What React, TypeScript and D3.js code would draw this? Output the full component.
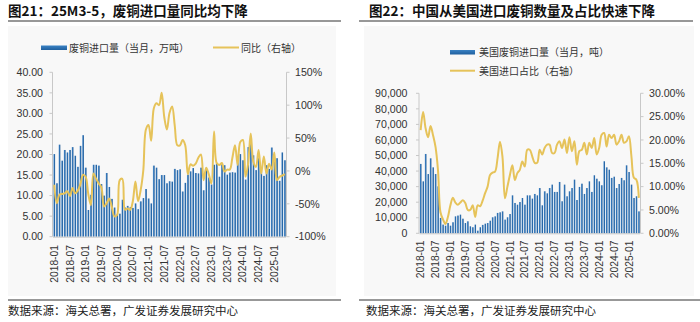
import React from "react";
import * as d3 from "d3";

// ---------- categories ----------
const months: string[] = [];
for (let y = 2018; y <= 2025; y++) {
  for (let m = 1; m <= 12; m++) {
    if (y === 2025 && m > 5) break;
    months.push(`${y}-${String(m).padStart(2, "0")}`);
  }
}
const tickMonths = months.filter((m) => m.endsWith("-01") || m.endsWith("-07"));

// ---------- Fig 21: scrap copper imports (万吨) and YoY (%) ----------
const scrapImport = [
  20.1, 13.0, 22.4, 18.5, 21.1, 20.5, 21.1, 21.8, 19.7, 17.0, 22.1, 24.7,
  16.8, 6.5, 10.2, 17.5, 17.5, 17.3, 12.8, 10.0, 15.5, 12.1, 9.2, 7.1,
  5.4, 5.6, 9.0, 7.1, 7.5, 7.2, 7.0, 8.1, 6.7, 8.6, 9.4, 11.6,
  9.3, 8.1, 17.3, 16.8, 14.0, 15.0, 15.0, 13.0, 13.5, 13.4, 16.5, 16.2,
  16.4, 11.0, 13.1, 15.1, 15.9, 16.7, 15.5, 15.4, 16.8, 11.3, 16.2, 14.4,
  12.7, 17.5, 17.8, 14.6, 17.6, 17.4, 15.1, 15.6, 15.7, 15.6, 18.1, 20.1,
  18.6, 13.9, 21.8, 22.5, 19.8, 16.2, 19.1, 15.9, 14.8, 17.4, 16.5, 21.7,
  19.1, 19.1, 13.6, 20.5, 18.6,
];
const scrapYoY = [
  -21, -49, -36, -35, -34, -31, -38, -26, -34, -30, -20, -6,
  -9, -35, -52, -4, -12, -19, -25, -54, -49, -42, -55, -69,
  -67, -14, -12, -59, -57, -59, -46, -16, -46, -29, 1, 63,
  70, 46, 95, 103, 100, 119, 82, 63, 88, 98, 69, 39,
  39, 47, 39, -5, 10, 8, 11, 20, 25, -14, 5, -5,
  -19, 60, 12, 9, 12, -1, 2, 2, 20, 39, 9, 44,
  47, -9, 11, 57, 14, 6, 32, -4, 22, -4, 11, 2,
  28, -14, -9, -7, -5,
];

// ---------- Fig 22: imports from US (吨) and share (%) ----------
const usImport = [
  44600, 33400, 51000, 38100, 48200, 42400, 38100, 30200, 9900, 5600, 4900, 6600,
  4900, 7100, 10900, 11400, 12000, 9400, 6600, 7700, 4500, 3900, 5600, 1700,
  3900, 5400, 6200, 6600, 8100, 10300, 10900, 13100, 13500, 14100, 8800, 10300,
  12400, 24400, 19500, 18400, 20100, 22700, 18400, 24400, 24400, 22300, 25300, 24400,
  29100, 18000, 27000, 25700, 29100, 31300, 26600, 26600, 33000, 20600, 31300, 23800,
  27000, 29100, 34500, 21400, 29800, 31900, 25300, 29100, 33400, 26600, 37300, 35100,
  33400, 30900, 46300, 42400, 40900, 35600, 36400, 29100, 31700, 35600, 34100, 43700,
  39400, 31300, 22700, 23800, 14100,
];
const usShare = [
  22.1, 26.0, 22.5, 20.6, 23.0, 21.0, 18.5, 13.5, 4.5, 3.0, 2.0, 3.5,
  6.0, 7.6, 6.6, 6.1, 6.6, 7.1, 6.5, 5.0, 5.0, 6.0, 3.5, 6.0,
  5.8, 7.0, 8.6, 10.0, 12.5, 13.0, 13.2, 16.0, 19.6, 16.4, 7.5, 10.0,
  12.5, 14.6, 11.4, 12.9, 13.6, 15.4, 14.3, 17.9, 17.9, 16.5, 15.1, 15.1,
  17.9, 16.9, 18.3, 19.0, 19.0, 17.2, 17.2, 19.0, 19.7, 18.3, 20.1, 17.2,
  20.6, 17.6, 19.7, 14.7, 17.6, 17.9, 19.4, 16.9, 19.4, 18.3, 20.4, 16.9,
  18.3, 21.1, 21.5, 18.6, 21.1, 20.4, 21.1, 19.0, 19.7, 21.1, 19.4, 19.7,
  20.8, 16.5, 11.9, 11.5, 7.6,
];

// ---------- tick values ----------
const scrapTicks = [0, 5, 10, 15, 20, 25, 30, 35, 40];
const yoyTicks = [-100, -50, 0, 50, 100, 150];
const usTicks = [0, 10000, 20000, 30000, 40000, 50000, 60000, 70000, 80000, 90000];
const shareTicks = [0, 5, 10, 15, 20, 25, 30];

const GOLD = "#e6c35a";
const AXIS = "#c8c8c8";
const TXT = "#333333";
const LATIN = "'Liberation Sans', Arial, sans-serif";
const CJK = "'Noto Sans CJK SC', 'Noto Sans', sans-serif";

type ChartProps = {
  id: string;
  x0: number;
  x1: number;
  yTop: number;
  yBot: number;
  bars: number[];
  line: number[];
  leftDomain: [number, number];
  rightDomain: [number, number];
  leftTicks: number[];
  rightTicks: number[];
  fmtLeft: (v: number) => string;
  fmtRight: (v: number) => string;
  leftLabelX: number;
  rightLabelX: number;
  xLabelY: number;
};

function ComboChart(p: ChartProps) {
  const x = d3.scaleBand<string>().domain(months).range([p.x0, p.x1]).paddingInner(0.32).paddingOuter(0.12);
  const yL = d3.scaleLinear().domain(p.leftDomain).range([p.yBot, p.yTop]);
  const yR = d3.scaleLinear().domain(p.rightDomain).range([p.yBot, p.yTop]);
  const cx = (m: string) => (x(m) as number) + x.bandwidth() / 2;
  const lineGen = d3
    .line<number>()
    .x((_, i) => cx(months[i]))
    .y((d) => yR(d))
    .curve(d3.curveCatmullRom.alpha(0.5));
  return (
    <g>
      {p.bars.map((v, i) => (
        <rect
          key={i}
          x={x(months[i])}
          y={yL(v)}
          width={x.bandwidth()}
          height={yL(0) - yL(v)}
          fill={`url(#barGrad)`}
        />
      ))}
      <line x1={p.x0} x2={p.x1} y1={p.yBot + 0.5} y2={p.yBot + 0.5} stroke={AXIS} strokeWidth={1} />
      <line x1={p.x0 - 0.5} x2={p.x0 - 0.5} y1={p.yTop} y2={p.yBot} stroke={AXIS} strokeWidth={1} />
      {p.leftTicks.map((t) => (
        <g key={t}>
          <line x1={p.x0 - 3.5} x2={p.x0 - 0.5} y1={yL(t)} y2={yL(t)} stroke={AXIS} />
          <text x={p.leftLabelX} y={yL(t)} dy="0.35em" textAnchor="end" fontFamily={LATIN} fontSize={10.6} fill={TXT}>
            {p.fmtLeft(t)}
          </text>
        </g>
      ))}
      <line x1={p.x1 + 0.5} x2={p.x1 + 0.5} y1={p.yTop} y2={p.yBot} stroke={AXIS} strokeWidth={1} />
      {p.rightTicks.map((t) => (
        <g key={t}>
          <line x1={p.x1 + 0.5} x2={p.x1 + 3.5} y1={yR(t)} y2={yR(t)} stroke={AXIS} />
          <text x={p.rightLabelX} y={yR(t)} dy="0.35em" textAnchor="start" fontFamily={LATIN} fontSize={10.6} fill={TXT}>
            {p.fmtRight(t)}
          </text>
        </g>
      ))}
      {tickMonths.map((m) => (
        <text
          key={m}
          transform={`translate(${cx(m)},${p.xLabelY}) rotate(-90)`}
          dy="0.35em"
          textAnchor="end"
          fontFamily={LATIN}
          fontSize={10.3}
          fill={TXT}
        >
          {m}
        </text>
      ))}
      <path d={lineGen(p.line) || ""} fill="none" stroke={GOLD} strokeWidth={2} strokeLinejoin="round" />
    </g>
  );
}

export default function App() {
  return (
    <svg width={700} height={322} style={{ position: "absolute", left: 0, top: 0, background: "#fff" }}>
      <defs>
        <linearGradient id="barGrad" x1="0" x2="1" y1="0" y2="0">
          <stop offset="0" stopColor="#8fb8e0" />
          <stop offset="0.4" stopColor="#3478bb" />
          <stop offset="1" stopColor="#1b5591" />
        </linearGradient>
        <linearGradient id="legGrad" x1="0" x2="0" y1="0" y2="1">
          <stop offset="0" stopColor="#3a82c4" />
          <stop offset="1" stopColor="#1f5f9e" />
        </linearGradient>
      </defs>

      <rect x={8} y={26} width={328} height={270} fill="#f8f8f8" />
      <rect x={364} y={26} width={330} height={270} fill="#f8f8f8" />

      <text x={8} y={15.5} fontFamily={CJK} fontWeight={700} fontSize={13.5} fill="#111">
        图21：25M3-5，废铜进口量同比均下降
      </text>
      <line x1={8} x2={341} y1={21} y2={21} stroke="#333" strokeWidth={1.2} />
      <text x={369} y={15.5} fontFamily={CJK} fontWeight={700} fontSize={13.5} fill="#111">
        图22：中国从美国进口废铜数量及占比快速下降
      </text>
      <line x1={359} x2={693} y1={21} y2={21} stroke="#333" strokeWidth={1.2} />

      <rect x={41} y={45.5} width={26} height={4.5} fill="url(#legGrad)" />
      <text x={69} y={48} dy="0.35em" fontFamily={CJK} fontSize={10} fill={TXT}>
        废铜进口量（当月，万吨）
      </text>
      <line x1={213} x2={239} y1={47.5} y2={47.5} stroke={GOLD} strokeWidth={2} />
      <text x={241} y={48} dy="0.35em" fontFamily={CJK} fontSize={10} fill={TXT}>
        同比（右轴）
      </text>

      <rect x={450} y={50} width={25} height={4.5} fill="url(#legGrad)" />
      <text x={479} y={52.5} dy="0.35em" fontFamily={CJK} fontSize={10} fill={TXT}>
        美国废铜进口量（当月，吨）
      </text>
      <line x1={450} x2={475} y1={70.7} y2={70.7} stroke={GOLD} strokeWidth={2} />
      <text x={479} y={71} dy="0.35em" fontFamily={CJK} fontSize={10} fill={TXT}>
        美国进口占比（右轴）
      </text>

      <ComboChart
        id="c21"
        x0={53}
        x1={286}
        yTop={72.3}
        yBot={236.7}
        bars={scrapImport}
        line={scrapYoY}
        leftDomain={[0, 40]}
        rightDomain={[-100, 150]}
        leftTicks={scrapTicks}
        rightTicks={yoyTicks}
        fmtLeft={(v) => v.toFixed(2)}
        fmtRight={(v) => `${v}%`}
        leftLabelX={43}
        rightLabelX={295}
        xLabelY={245}
      />
      <ComboChart
        id="c22"
        x0={419.5}
        x1={640}
        yTop={93.3}
        yBot={233.3}
        bars={usImport}
        line={usShare}
        leftDomain={[0, 90000]}
        rightDomain={[0, 30]}
        leftTicks={usTicks}
        rightTicks={shareTicks}
        fmtLeft={(v) => d3.format(",")(v)}
        fmtRight={(v) => `${v.toFixed(2)}%`}
        leftLabelX={407.5}
        rightLabelX={649}
        xLabelY={240.5}
      />

      <line x1={8} x2={341} y1={300} y2={300} stroke="#333" strokeWidth={1} />
      <text x={8} y={315} fontFamily={CJK} fontSize={11.5} fill="#222">
        数据来源：海关总署，广发证券发展研究中心
      </text>
      <line x1={359} x2={700} y1={300} y2={300} stroke="#333" strokeWidth={1} />
      <text x={366} y={315} fontFamily={CJK} fontSize={11.5} fill="#222">
        数据来源：海关总署，广发证券发展研究中心
      </text>
    </svg>
  );
}
